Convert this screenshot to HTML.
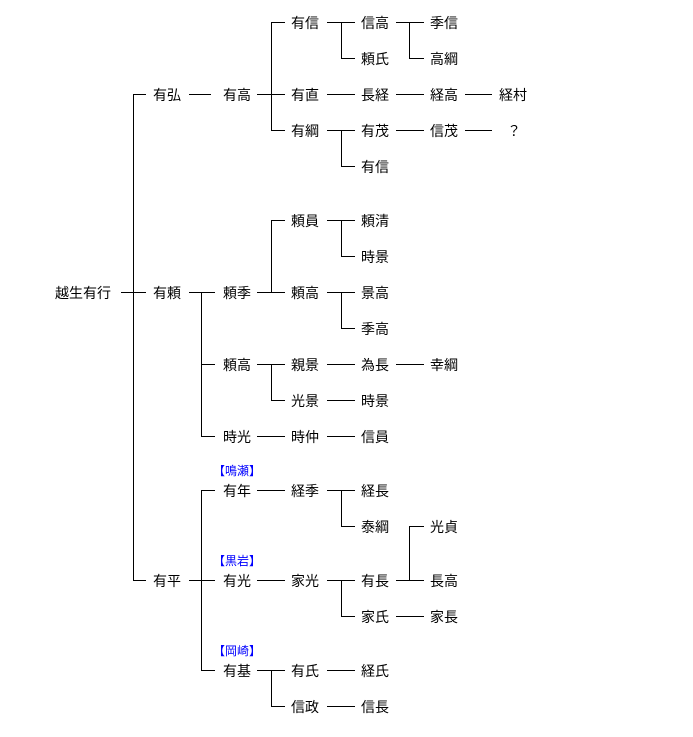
<!DOCTYPE html>
<html><head><meta charset="utf-8"><style>
body{margin:0;background:#fff}
svg{display:block}
text{font-family:"Liberation Sans","Noto Sans CJK JP",sans-serif;font-size:14px;fill:#000;dominant-baseline:central}
.b{fill:#0000ff;font-size:12px}
line{stroke:#000;stroke-width:1}
</style></head><body>
<svg width="693" height="737" xmlns="http://www.w3.org/2000/svg">
<g shape-rendering="crispEdges">
<!-- root -->
<line x1="121" y1="292.5" x2="146" y2="292.5"/>
<line x1="133.5" y1="94" x2="133.5" y2="581"/>
<line x1="133" y1="94.5" x2="146" y2="94.5"/>
<line x1="133" y1="580.5" x2="146" y2="580.5"/>
<!-- 有弘 -->
<line x1="189" y1="94.5" x2="211" y2="94.5"/>
<line x1="257" y1="94.5" x2="285" y2="94.5"/>
<line x1="271.5" y1="22" x2="271.5" y2="131"/>
<line x1="271" y1="22.5" x2="285" y2="22.5"/>
<line x1="271" y1="130.5" x2="285" y2="130.5"/>
<line x1="327" y1="22.5" x2="355" y2="22.5"/>
<line x1="341.5" y1="22" x2="341.5" y2="59"/>
<line x1="341" y1="58.5" x2="355" y2="58.5"/>
<line x1="396" y1="22.5" x2="424" y2="22.5"/>
<line x1="409.5" y1="22" x2="409.5" y2="59"/>
<line x1="409" y1="58.5" x2="424" y2="58.5"/>
<line x1="327" y1="94.5" x2="355" y2="94.5"/>
<line x1="396" y1="94.5" x2="424" y2="94.5"/>
<line x1="465" y1="94.5" x2="492" y2="94.5"/>
<line x1="327" y1="130.5" x2="355" y2="130.5"/>
<line x1="341.5" y1="130" x2="341.5" y2="167"/>
<line x1="341" y1="166.5" x2="355" y2="166.5"/>
<line x1="396" y1="130.5" x2="424" y2="130.5"/>
<line x1="465" y1="130.5" x2="492" y2="130.5"/>
<!-- 有頼 -->
<line x1="189" y1="292.5" x2="215" y2="292.5"/>
<line x1="201.5" y1="292" x2="201.5" y2="437"/>
<line x1="201" y1="364.5" x2="215" y2="364.5"/>
<line x1="201" y1="436.5" x2="215" y2="436.5"/>
<line x1="257" y1="292.5" x2="285" y2="292.5"/>
<line x1="271.5" y1="220" x2="271.5" y2="293"/>
<line x1="271" y1="220.5" x2="285" y2="220.5"/>
<line x1="327" y1="220.5" x2="355" y2="220.5"/>
<line x1="341.5" y1="220" x2="341.5" y2="257"/>
<line x1="341" y1="256.5" x2="355" y2="256.5"/>
<line x1="327" y1="292.5" x2="355" y2="292.5"/>
<line x1="341.5" y1="292" x2="341.5" y2="329"/>
<line x1="341" y1="328.5" x2="355" y2="328.5"/>
<line x1="257" y1="364.5" x2="285" y2="364.5"/>
<line x1="271.5" y1="364" x2="271.5" y2="401"/>
<line x1="271" y1="400.5" x2="285" y2="400.5"/>
<line x1="327" y1="364.5" x2="355" y2="364.5"/>
<line x1="396" y1="364.5" x2="424" y2="364.5"/>
<line x1="327" y1="400.5" x2="355" y2="400.5"/>
<line x1="257" y1="436.5" x2="285" y2="436.5"/>
<line x1="327" y1="436.5" x2="355" y2="436.5"/>
<!-- 有平 -->
<line x1="189" y1="580.5" x2="215" y2="580.5"/>
<line x1="201.5" y1="490" x2="201.5" y2="671"/>
<line x1="201" y1="490.5" x2="215" y2="490.5"/>
<line x1="201" y1="670.5" x2="215" y2="670.5"/>
<line x1="257" y1="490.5" x2="285" y2="490.5"/>
<line x1="327" y1="490.5" x2="355" y2="490.5"/>
<line x1="341.5" y1="490" x2="341.5" y2="527"/>
<line x1="341" y1="526.5" x2="355" y2="526.5"/>
<line x1="257" y1="580.5" x2="285" y2="580.5"/>
<line x1="327" y1="580.5" x2="355" y2="580.5"/>
<line x1="341.5" y1="580" x2="341.5" y2="617"/>
<line x1="341" y1="616.5" x2="355" y2="616.5"/>
<line x1="396" y1="580.5" x2="424" y2="580.5"/>
<line x1="409.5" y1="526" x2="409.5" y2="581"/>
<line x1="409" y1="526.5" x2="424" y2="526.5"/>
<line x1="396" y1="616.5" x2="424" y2="616.5"/>
<line x1="257" y1="670.5" x2="285" y2="670.5"/>
<line x1="271.5" y1="670" x2="271.5" y2="707"/>
<line x1="271" y1="706.5" x2="285" y2="706.5"/>
<line x1="327" y1="670.5" x2="355" y2="670.5"/>
<line x1="327" y1="706.5" x2="355" y2="706.5"/>
</g>
<text x="55" y="293">越生有行</text>
<text x="153" y="95">有弘</text><text x="223" y="95">有高</text>
<text x="291" y="23">有信</text><text x="361" y="23">信高</text><text x="430" y="23">季信</text>
<text x="361" y="59">頼氏</text><text x="430" y="59">高綱</text>
<text x="291" y="95">有直</text><text x="361" y="95">長経</text><text x="430" y="95">経高</text><text x="499" y="95">経村</text>
<text x="291" y="131">有綱</text><text x="361" y="131">有茂</text><text x="430" y="131">信茂</text><text x="507" y="131">？</text>
<text x="361" y="167">有信</text>
<text x="153" y="293">有頼</text><text x="223" y="293">頼季</text>
<text x="291" y="221">頼員</text><text x="361" y="221">頼清</text><text x="361" y="257">時景</text>
<text x="291" y="293">頼高</text><text x="361" y="293">景高</text><text x="361" y="329">季高</text>
<text x="223" y="365">頼高</text><text x="291" y="365">親景</text><text x="361" y="365">為長</text><text x="430" y="365">幸綱</text>
<text x="291" y="401">光景</text><text x="361" y="401">時景</text>
<text x="223" y="437">時光</text><text x="291" y="437">時仲</text><text x="361" y="437">信員</text>
<text class="b" x="213" y="471">【鳴瀬】</text>
<text x="223" y="491">有年</text><text x="291" y="491">経季</text><text x="361" y="491">経長</text>
<text x="361" y="527">泰綱</text><text x="430" y="527">光貞</text>
<text class="b" x="213" y="561">【黒岩】</text>
<text x="153" y="581">有平</text><text x="223" y="581">有光</text><text x="291" y="581">家光</text><text x="361" y="581">有長</text><text x="430" y="581">長高</text>
<text x="361" y="617">家氏</text><text x="430" y="617">家長</text>
<text class="b" x="213" y="651">【岡崎】</text>
<text x="223" y="671">有基</text><text x="291" y="671">有氏</text><text x="361" y="671">経氏</text>
<text x="291" y="707">信政</text><text x="361" y="707">信長</text>
</svg>
</body></html>
